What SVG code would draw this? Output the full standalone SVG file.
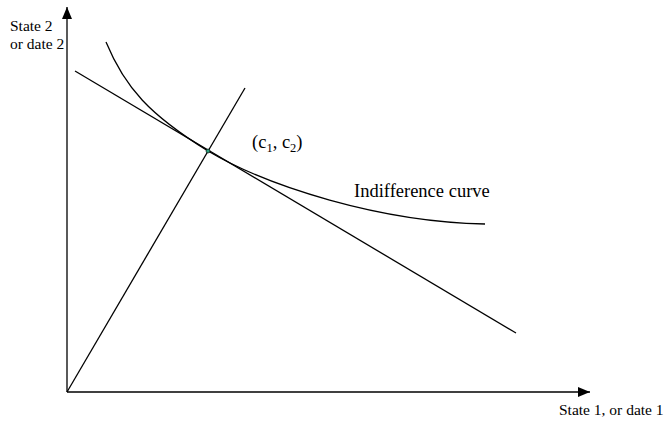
<svg xmlns="http://www.w3.org/2000/svg" width="666" height="422" viewBox="0 0 666 422">
<style>
.ln{stroke:#000;stroke-width:1.3;fill:none}
.t{font-family:"Liberation Serif","Times New Roman",serif;fill:#000}
.ax{font-size:15.5px}
.lb{font-size:18.5px}
</style>
<defs>
<marker id="ah" viewBox="0 0 12 10" refX="12" refY="5" markerWidth="12" markerHeight="10" markerUnits="userSpaceOnUse" orient="auto">
<path d="M0,0 L12,5 L0,10 Z" fill="#000"/>
</marker>
</defs>
<rect width="666" height="422" fill="#fff"/>
<g id="axes">
<line class="ln" x1="67" y1="392" x2="67" y2="7" marker-end="url(#ah)"/>
<line class="ln" x1="67" y1="392" x2="590" y2="392" marker-end="url(#ah)"/>
</g>
<g id="connectors">
<line id="budget" class="ln" x1="75" y1="71" x2="516" y2="333"/>
<line id="ray" class="ln" x1="67" y1="392" x2="245" y2="88"/>
<path id="indifference" class="ln" d="M106,42 C125,88 150,115 208,151 C268,186.6 380,222 485,224"/>
</g>
<g id="point"><circle cx="208" cy="151" r="2" fill="#2a9d7a" stroke="#000" stroke-width="0.6"/></g>
<g id="labels">
<text class="t ax" x="10" y="31">State 2</text>
<text class="t ax" x="10" y="49">or date 2</text>
<text class="t lb" x="252" y="148">(c<tspan font-size="12.5" dy="4">1</tspan><tspan dy="-4">, c</tspan><tspan font-size="12.5" dy="4">2</tspan><tspan dy="-4">)</tspan></text>
<text class="t lb" x="354" y="197">Indifference curve</text>
<text class="t ax" x="559" y="415">State 1, or date 1</text>
</g>
</svg>
